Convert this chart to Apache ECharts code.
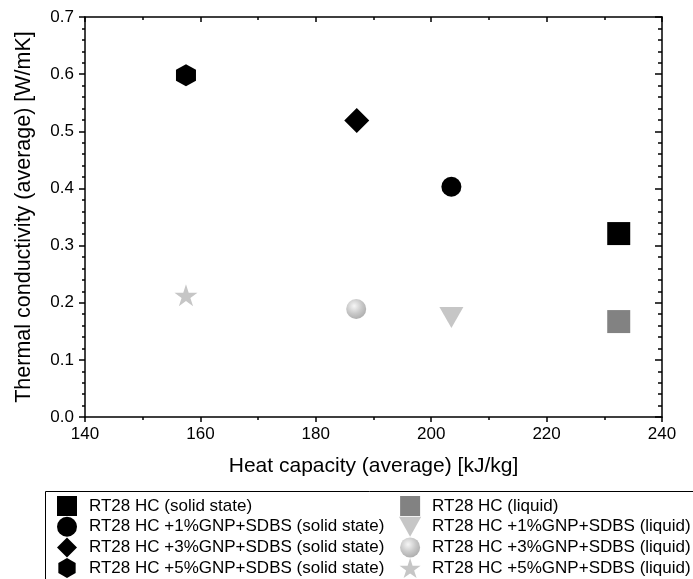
<!DOCTYPE html>
<html>
<head>
<meta charset="utf-8">
<script src="https://cdn.jsdelivr.net/npm/echarts@6/dist/echarts.min.js"></script>
<style>
  html, body { margin: 0; padding: 0; background: #fff; }
  #chart { width: 693px; height: 579px; }
</style>
</head>
<body>
<div id="chart"></div>
<script>
const FONT = '"Liberation Sans", Arial, sans-serif';

// series names (legend order)
const solidNames = [
  'RT28 HC (solid state)',
  'RT28 HC +1%GNP+SDBS (solid state)',
  'RT28 HC +3%GNP+SDBS (solid state)',
  'RT28 HC +5%GNP+SDBS (solid state)'
];
const liquidNames = [
  'RT28 HC (liquid)',
  'RT28 HC +1%GNP+SDBS (liquid)',
  'RT28 HC +3%GNP+SDBS (liquid)',
  'RT28 HC +5%GNP+SDBS (liquid)'
];

// [heat capacity kJ/kg, thermal conductivity W/mK]
const solidPoints = [
  [232.5, 0.321],
  [203.5, 0.403],
  [187.1, 0.519],
  [157.5, 0.598]
];
const liquidPoints = [
  [232.5, 0.167],
  [203.5, 0.174],
  [187.0, 0.189],
  [157.5, 0.213]
];

const xTicks = [140, 160, 180, 200, 220, 240];
const yTicks = [0, 0.1, 0.2, 0.3, 0.4, 0.5, 0.6, 0.7];

const SQUARE = 'path://M0,0 L1,0 L1,1 L0,1 Z';
const DIAMOND = 'path://M0,-1 L1,0 L0,1 L-1,0 Z';
const HEXAGON = 'path://M0,-1 L0.866,-0.5 L0.866,0.5 L0,1 L-0.866,0.5 L-0.866,-0.5 Z';
const TRI_DOWN = 'path://M-1,-0.9 L1,-0.9 L0,0.9 Z';
const STAR = 'path://M0,-1 L0.2245,-0.309 L0.951,-0.309 L0.363,0.118 L0.588,0.809 L0,0.382 L-0.588,0.809 L-0.363,0.118 L-0.951,-0.309 L-0.2245,-0.309 Z';

const sphere = {
  type: 'radial', x: 0.4, y: 0.35, r: 0.65,
  colorStops: [
    { offset: 0, color: '#f6f6f6' },
    { offset: 0.6, color: '#c8c8c8' },
    { offset: 1, color: '#b0b0b0' }
  ]
};

const solidStyle = [
  { symbol: SQUARE, size: 23, icon: SQUARE, color: '#000' },
  { symbol: 'circle', size: 20, icon: 'circle', color: '#000' },
  { symbol: DIAMOND, size: 25, icon: DIAMOND, color: '#000' },
  { symbol: HEXAGON, size: [20, 22], icon: HEXAGON, color: '#000' }
];
const liquidStyle = [
  { symbol: SQUARE, size: 23, icon: SQUARE, color: '#828282' },
  { symbol: TRI_DOWN, size: [24, 21], icon: TRI_DOWN, color: '#c6c6c6' },
  { symbol: 'circle', size: 20, icon: 'circle', color: sphere },
  { symbol: STAR, size: [23, 22], icon: STAR, color: '#c6c6c6' }
];

function makeSeries(names, points, styles) {
  return names.map((name, i) => ({
    name: name,
    type: 'scatter',
    xAxisIndex: 0,
    yAxisIndex: 0,
    symbol: styles[i].symbol,
    symbolSize: styles[i].size,
    itemStyle: { color: styles[i].color, opacity: 1 },
    data: [points[i]]
  }));
}

function legendFor(names, styles, left) {
  return {
    orient: 'vertical',
    left: left,
    top: 496,
    itemWidth: 34,
    itemHeight: 20,
    itemGap: 0.7,
    padding: 0,
    selectedMode: false,
    textStyle: { fontFamily: FONT, fontSize: 17, color: '#000' },
    data: names.map((n, i) => ({ name: n, icon: styles[i].icon }))
  };
}

const baseAxis = {
  axisLine: { show: true, onZero: false, lineStyle: { color: '#000', width: 1.5 } },
  splitLine: { show: false },
  minorSplitLine: { show: false }
};

const chart = echarts.init(document.getElementById('chart'), null, { renderer: 'canvas' });

chart.setOption({
  animation: false,
  backgroundColor: '#fff',
  grid: { left: 85, right: 31, top: 17, bottom: 162, containLabel: false },
  xAxis: [
    Object.assign({}, baseAxis, {
      type: 'value',
      position: 'bottom',
      min: xTicks[0],
      max: xTicks[xTicks.length - 1],
      interval: xTicks[1] - xTicks[0],
      name: 'Heat capacity (average) [kJ/kg]',
      nameLocation: 'middle',
      nameGap: 39,
      nameTextStyle: { fontFamily: FONT, fontSize: 21, color: '#000' },
      axisTick: { show: true, inside: false, length: 5, lineStyle: { color: '#000', width: 1.5 } },
      minorTick: { show: true, splitNumber: 2, length: 3, lineStyle: { color: '#000', width: 1.5 } },
      axisLabel: { fontFamily: FONT, fontSize: 17, color: '#000', margin: 9 }
    }),
    Object.assign({}, baseAxis, {
      type: 'value',
      position: 'top',
      min: xTicks[0],
      max: xTicks[xTicks.length - 1],
      interval: xTicks[1] - xTicks[0],
      axisTick: { show: true, inside: true, length: 5, lineStyle: { color: '#000', width: 1.5 } },
      minorTick: { show: true, splitNumber: 2, length: 3, lineStyle: { color: '#000', width: 1.5 } },
      axisLabel: { show: false }
    })
  ],
  yAxis: [
    Object.assign({}, baseAxis, {
      type: 'value',
      position: 'left',
      min: yTicks[0],
      max: yTicks[yTicks.length - 1],
      interval: 0.1,
      name: 'Thermal conductivity (average) [W/mK]',
      nameLocation: 'middle',
      nameGap: 50,
      nameTextStyle: { fontFamily: FONT, fontSize: 21.5, color: '#000' },
      axisTick: { show: true, inside: false, length: 6, lineStyle: { color: '#000', width: 1.5 } },
      minorTick: { show: true, splitNumber: 5, length: 3, lineStyle: { color: '#000', width: 1.5 } },
      axisLabel: {
        fontFamily: FONT, fontSize: 17, color: '#000', margin: 11,
        formatter: v => v.toFixed(1)
      }
    }),
    Object.assign({}, baseAxis, {
      type: 'value',
      position: 'right',
      min: yTicks[0],
      max: yTicks[yTicks.length - 1],
      interval: 0.1,
      axisTick: { show: true, inside: true, length: 7, lineStyle: { color: '#000', width: 1.5 } },
      minorTick: { show: true, splitNumber: 5, length: 4, lineStyle: { color: '#000', width: 1.5 } },
      axisLabel: { show: false }
    })
  ],
  legend: [
    legendFor(solidNames, solidStyle, 57),
    legendFor(liquidNames, liquidStyle, 399)
  ],
  graphic: [{
    type: 'rect',
    left: 43, top: 489,
    shape: { width: 700, height: 120 },
    style: { fill: 'none', stroke: '#000', lineWidth: 1 },
    silent: true
  }],
  series: makeSeries(solidNames, solidPoints, solidStyle)
    .concat(makeSeries(liquidNames, liquidPoints, liquidStyle))
});
</script>
</body>
</html>
